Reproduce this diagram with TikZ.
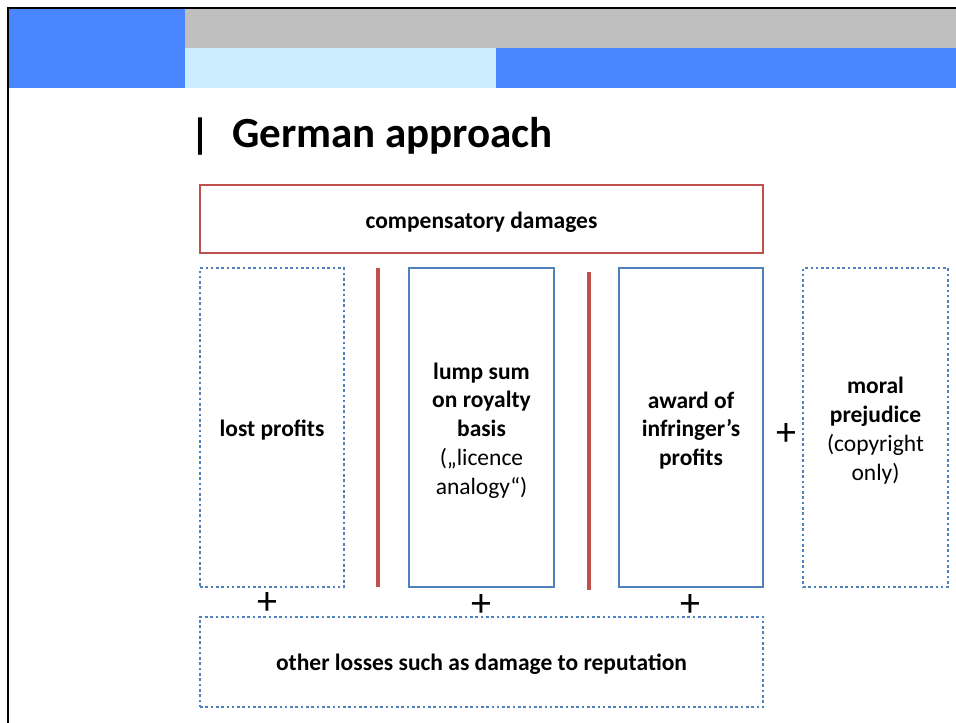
\documentclass[tikz,border=0pt]{standalone}
\usepackage{fontspec}
\setmainfont{Carlito}
\definecolor{hdrblue}{HTML}{4A86FF}
\definecolor{hdrgray}{HTML}{BFBFBF}
\definecolor{hdrlight}{HTML}{CCECFF}
\definecolor{boxblue}{HTML}{4F81BD}
\definecolor{barred}{HTML}{C0504D}
\begin{document}
\begin{tikzpicture}[x=1pt, y=-1pt,
  every node/.style={inner sep=0pt, outer sep=0pt},
  body/.style={font=\fontsize{23.5}{28.8}\selectfont, align=center},
  solidbox/.style={draw=boxblue, line width=2.5pt},
  dotbox/.style={draw=boxblue, line width=2.6pt, dash pattern=on 2.6pt off 2.7pt},
  redbox/.style={draw=barred, line width=2.5pt},
  plussign/.style={font=\fontsize{40}{40}\selectfont},
  colbox/.style={minimum width=144pt, minimum height=319pt}]

\useasboundingbox (0,0) rectangle (956,723);
\fill[white] (0,0) rectangle (956,723);

% header bands
\fill[hdrblue]  (8,8)      rectangle (185,88);
\fill[hdrgray]  (185,8)    rectangle (956,47.5);
\fill[hdrlight] (185,47.5) rectangle (496,88);
\fill[hdrblue]  (496,47.5) rectangle (956,88);

% slide frame
\draw[black, line width=2.5pt] (8,723) -- (8,8) -- (956,8);

% title
\node[anchor=base, font=\fontsize{42}{42}\selectfont\bfseries] (bar) at (200,148) {|};
\node[anchor=base west, font=\fontsize{43}{43}\selectfont\bfseries] (title) at (232,147) {German approach};

% compensatory damages frame
\node[redbox, minimum width=563pt, minimum height=68pt] (comp) at (481.5,219) {};
\node[body] (comp-t) at ([yshift=-3pt]comp.center) {\textbf{compensatory damages}};

% columns
\node[dotbox, colbox] (lost) at (272,427.5) {};
\node[solidbox, colbox, minimum width=145pt] (lump) at (481.5,427.5) {};
\node[solidbox, colbox] (award) at (691,427.5) {};
\node[dotbox, colbox, minimum width=145pt] (moral) at (875.5,427.5) {};

\node[body] (lost-t) at ([yshift=-3pt]lost.center) {\textbf{lost profits}};
\node[body] (lump-t) at ([yshift=-3pt]lump.center)
  {\textbf{lump sum}\\\textbf{on royalty}\\\textbf{basis}\\(„licence\\analogy“)};
\node[body] (award-t) at ([yshift=-3pt]award.center)
  {\textbf{award of}\\\textbf{infringer’s}\\\textbf{profits}};
\node[body] (moral-t) at ([yshift=-3pt]moral.center)
  {\textbf{moral}\\\textbf{prejudice}\\(copyright\\only)};

% separators between the alternatives
\fill[barred] (376,268) rectangle (380,587);
\fill[barred] (587,272) rectangle (591,590);

% other losses
\node[dotbox, minimum width=563pt, minimum height=90pt] (other) at (481.5,662) {};
\node[body] (other-t) at ([yshift=-2.5pt]other.center)
  {\textbf{other losses such as damage to reputation}};

% plus signs
\node[plussign] (p1) at (267,603) {+};
\node[plussign] (p2) at (481,605) {+};
\node[plussign] (p3) at (690,605) {+};
\node[plussign] (p4) at (786,434) {+};
\end{tikzpicture}
\end{document}
